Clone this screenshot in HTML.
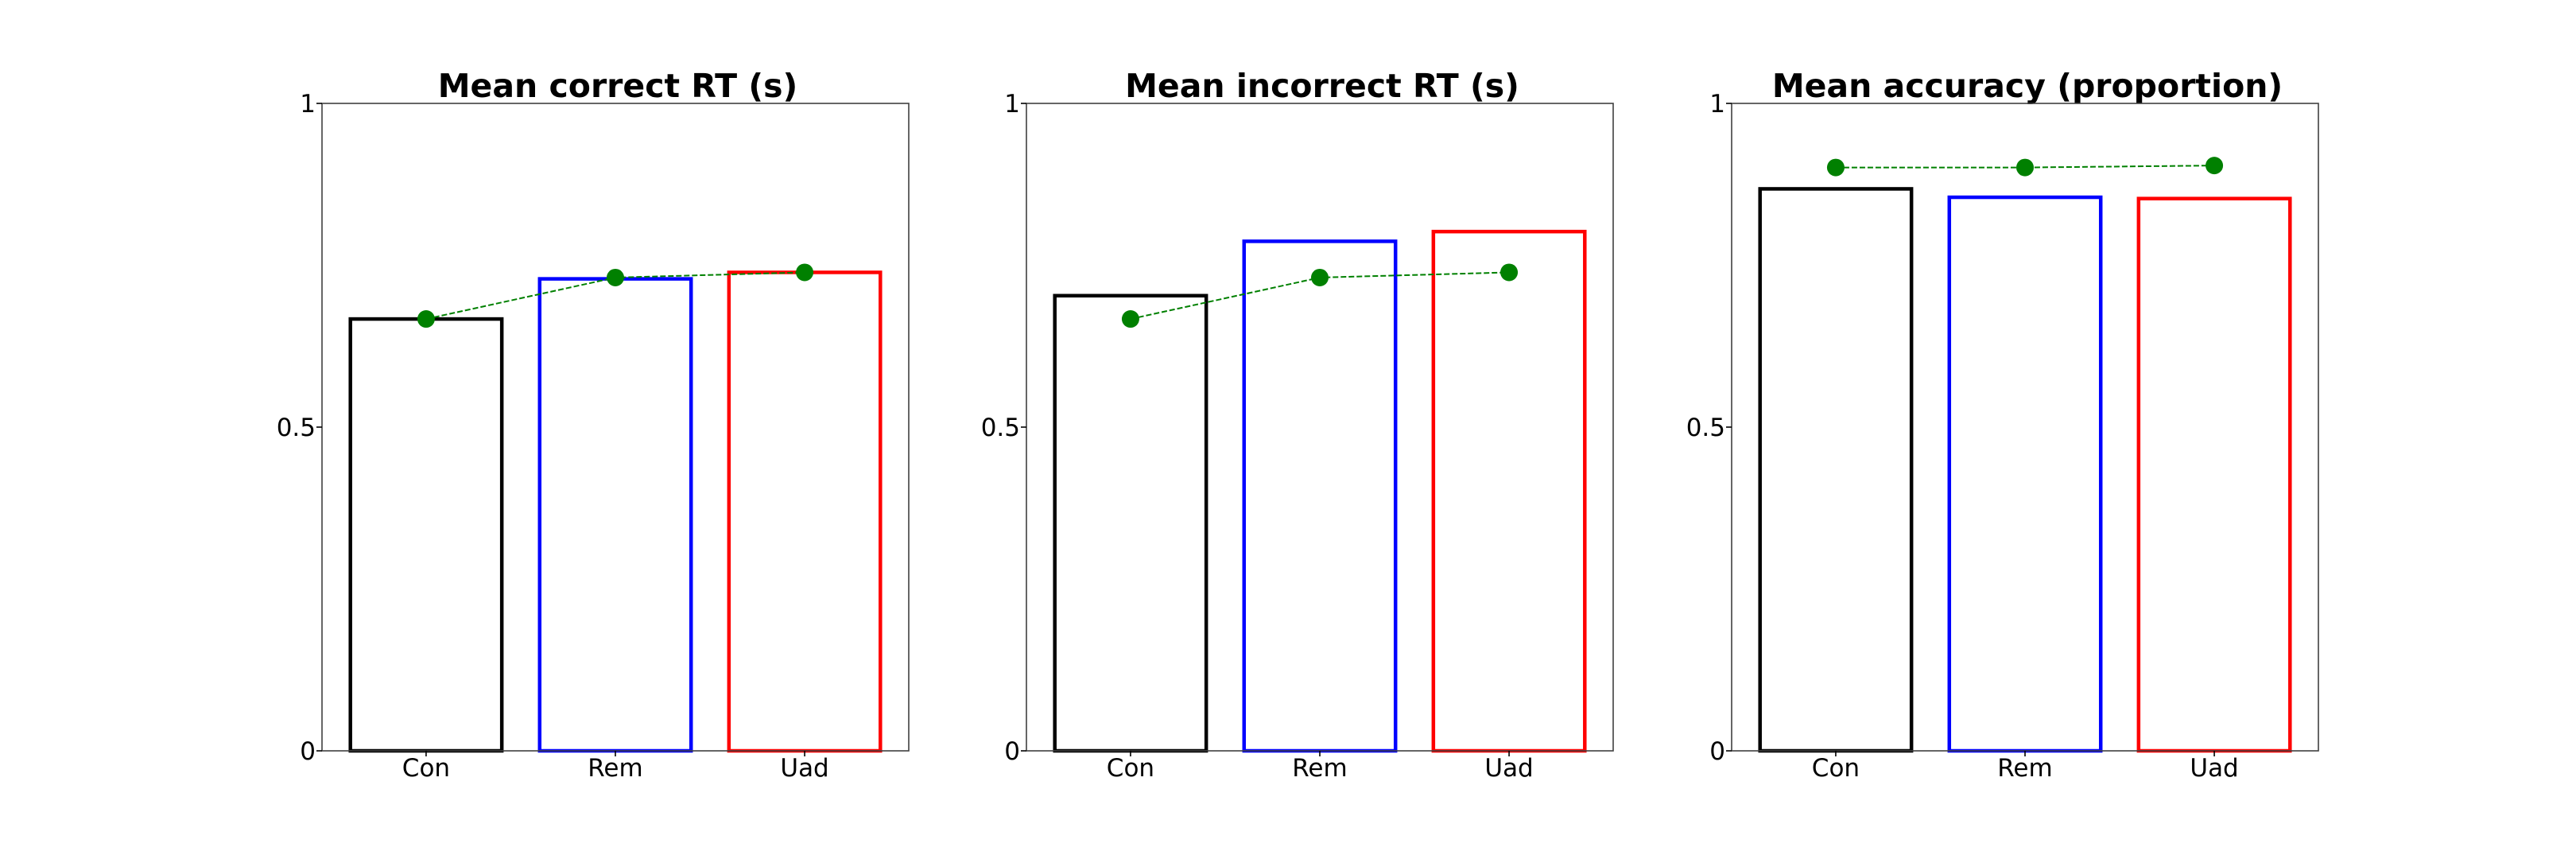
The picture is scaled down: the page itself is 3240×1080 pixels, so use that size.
<!DOCTYPE html>
<html><head><meta charset="utf-8"><style>
html,body{margin:0;padding:0;background:#fff}
svg{display:block;font-family:"DejaVu Sans","Liberation Sans",sans-serif}
</style></head><body>
<svg id="chart" width="3240" height="1080" viewBox="0 0 3240 1080"></svg>
<script>
const categories = ["Con","Rem","Uad"];
const titles = ["Mean correct RT (s)","Mean incorrect RT (s)","Mean accuracy (proportion)"];
const barValues1 = [0.667,0.729,0.739];
const barValues2 = [0.703,0.787,0.802];
const barValues3 = [0.868,0.855,0.853];
const dotValues1 = [0.667,0.731,0.739];
const dotValues2 = [0.667,0.731,0.739];
const dotValues3 = [0.901,0.901,0.904];
const yTicks = [0,0.5,1];
const yTickLabels = ["0","0.5","1"];

const barSets = [barValues1,barValues2,barValues3];
const dotSets = [dotValues1,dotValues2,dotValues3];
const colors = ["#000000","#0000ff","#ff0000"];
const panelsX = [405,1291,2178];
const PW = 738, TOP = 130, BOT = 944;
const NS = "http://www.w3.org/2000/svg";
const svg = document.getElementById('chart');
function mk(tag, attrs, parent){const e=document.createElementNS(NS,tag);for(const k in attrs)e.setAttribute(k,attrs[k]);(parent||svg).appendChild(e);return e;}

for(let p=0;p<3;p++){
  const x0 = panelsX[p];
  const xs = v => x0 + (v + 0.55) / 3.1 * PW;
  const ys = v => BOT - v * (BOT - TOP);
  const g = mk('g',{});
  
  
  const t = mk('text',{x:x0+PW/2+3,y:122,'text-anchor':'middle','font-size':41,'font-weight':'bold',fill:'#000'},g);
  t.textContent = titles[p];
  
  
  barSets[p].forEach((v,i)=>{
    const r = mk('rect',{x:xs(i-0.4),y:ys(v),width:xs(i+0.4)-xs(i-0.4),height:ys(0)-ys(v),fill:'none',stroke:colors[i],'stroke-width':4.5},g);
    
    
  });
  const pts = dotSets[p].map((v,i)=>xs(i)+','+ys(v)).join(' ');
  const pl = mk('polyline',{points:pts,fill:'none',stroke:'#008000','stroke-width':2,'stroke-dasharray':'7,3'},g);
  
  
  dotSets[p].forEach((v,i)=>{
    const c = mk('circle',{cx:xs(i),cy:ys(v),r:11,fill:'#008000'},g);
    
    
  });
  const fr = mk('rect',{x:x0,y:TOP,width:PW,height:BOT-TOP,fill:'none',stroke:'#404040','stroke-width':1.6},g);
  
  
  yTicks.forEach((v,i)=>{
    mk('line',{x1:x0-7,x2:x0,y1:ys(v),y2:ys(v),stroke:'#000','stroke-width':1.6},g);
    const tl = mk('text',{x:x0-8,y:ys(v)+11,'text-anchor':'end','font-size':31,fill:'#000'},g);
    tl.textContent = yTickLabels[i];
    
    
  });
  categories.forEach((c,i)=>{
    mk('line',{x1:xs(i),x2:xs(i),y1:BOT,y2:BOT+7,stroke:'#000','stroke-width':1.6},g);
    const tl = mk('text',{x:xs(i),y:976,'text-anchor':'middle','font-size':31,fill:'#000'},g);
    tl.textContent = c;
    
    
  });
}
</script>
</body></html>
